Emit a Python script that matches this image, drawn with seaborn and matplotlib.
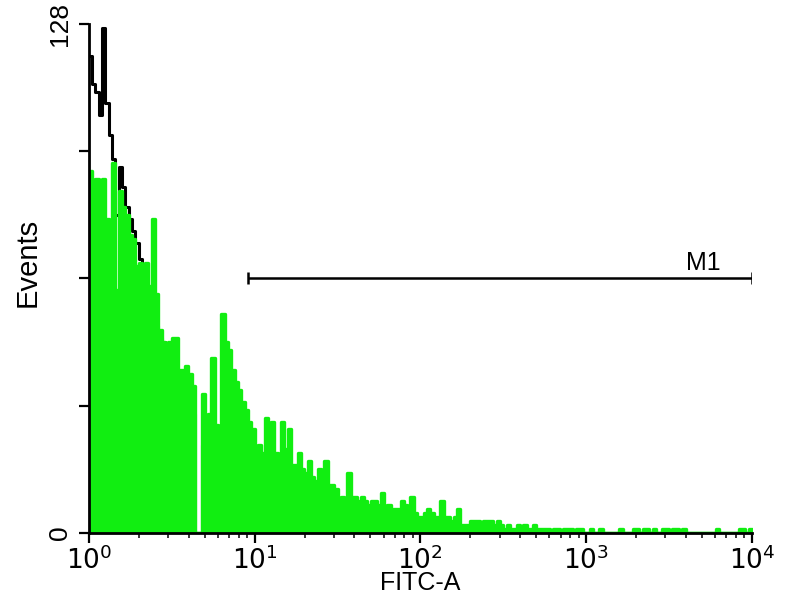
"""Flow cytometry overlay histogram: FITC-A, stained sample vs control"""
import numpy as np
import pandas as pd
import matplotlib
matplotlib.use("Agg")
import matplotlib.pyplot as plt
import seaborn as sns
from matplotlib.ticker import FixedLocator, LogLocator, NullFormatter

# 200 channels over 4 decades (50 per decade), counts
sample_counts = [
    91, 82, 89, 79, 89, 79, 78, 93, 61, 86,
    82, 80, 75, 74, 67, 68, 66, 68, 62, 79,
    60, 51, 48, 47, 48, 49, 49, 41, 41, 42,
    40, 37, 0, 0, 35, 23, 30, 44, 27, 20,
    55, 48, 46, 41, 38, 36, 33, 31, 28, 26,
    21, 22, 20, 29, 22, 28, 20, 19, 28, 21,
    26, 17, 17, 20, 16, 15, 18, 14, 13, 16,
    13, 18, 12, 12, 11, 8, 9, 8, 15, 9,
    9, 8, 9, 8, 7, 8, 8, 7, 10, 6,
    7, 6, 6, 6, 8, 7, 6, 9, 5, 4,
    4, 5, 6, 5, 4, 4, 8, 4, 4, 3,
    4, 6, 2, 2, 2, 3, 3, 3, 2, 3,
    3, 3, 2, 3, 2, 1, 2, 1, 1, 2,
    1, 2, 1, 1, 2, 1, 1, 1, 1, 0,
    1, 1, 0, 1, 1, 1, 0, 1, 1, 0,
    0, 1, 0, 0, 1, 0, 0, 0, 0, 0,
    1, 0, 0, 0, 1, 1, 0, 1, 1, 0,
    1, 0, 0, 1, 1, 0, 1, 1, 0, 1,
    0, 0, 0, 0, 0, 0, 0, 0, 0, 1,
    0, 0, 0, 0, 0, 0, 1, 1, 0, 1,
]

control_counts = [
    120, 113, 111, 105, 127, 108, 100, 94, 80, 92,
    87, 82, 79, 76, 73, 69, 67, 62, 55, 57,
    52, 49, 48, 45, 44, 42, 40, 38, 36, 34,
    32, 30, 0, 0, 22, 20, 19, 16, 15, 14,
    13, 13, 12, 13, 12, 10, 11, 10, 10, 11,
    9, 10, 9, 6, 9, 8, 8, 5, 4, 5,
    4, 5, 5, 6, 5, 4, 5, 4, 5, 4,
    4, 5, 5, 4, 5, 3, 3, 4, 4, 3,
    4, 4, 3, 2, 1, 2, 1, 1, 1, 2,
    1, 1, 1, 2, 1, 1, 1, 1, 1, 1,
    1, 1, 1,
] + [0] * 97

n_channels = len(sample_counts)
decades = (0, 4)
x_ticks = [1, 10, 100, 1000, 10000]
x_tick_labels = ["$10^{0}$", "$10^{1}$", "$10^{2}$", "$10^{3}$", "$10^{4}$"]
y_ticks = [0, 32, 64, 96, 128]
y_tick_labels = ["0", "", "", "", "128"]
marker_name = "M1"
marker_range = (9.1, 10000)
marker_level = 64

# channel centres in linear units
centres = 10 ** (decades[0] + (np.arange(n_channels) + 0.5) * (decades[1] - decades[0]) / n_channels)
df = pd.DataFrame({"FITC-A": centres, "sample": sample_counts, "control": control_counts})

sns.set_style("ticks")
plt.rcParams["font.family"] = ["Liberation Sans", "DejaVu Sans"]

fig = plt.figure(figsize=(8, 6), dpi=100)
ax = fig.add_axes([0.111, 0.112, 0.829, 0.848])

# control outline first, green sample fill on top of it
sns.histplot(data=df, x="FITC-A", weights="control", bins=n_channels, binrange=decades,
             log_scale=True, element="step", fill=False, color="black", linewidth=2.2,
             ax=ax, zorder=2)
sns.histplot(data=df, x="FITC-A", weights="sample", bins=n_channels, binrange=decades,
             log_scale=True, element="step", fill=True, color="#11ee11", alpha=1,
             edgecolor="#11ee11", linewidth=2.4, ax=ax, zorder=3)

# marker bar
ax.hlines(marker_level, *marker_range, color="black", linewidth=1.8, zorder=4)
ax.vlines(marker_range, marker_level - 1.5, marker_level + 1.5, color="black", linewidth=1.8, zorder=4)
ax.text(5060, marker_level + 0.8, marker_name, fontsize=18, color="black", ha="center", va="bottom")

ax.set_xlim(1, 10000)
ax.set_ylim(0, 128)
ax.xaxis.set_major_locator(FixedLocator(x_ticks))
ax.set_xticklabels(x_tick_labels)
ax.xaxis.set_minor_locator(LogLocator(base=10, subs=np.arange(2, 10)))
ax.xaxis.set_minor_formatter(NullFormatter())
ax.set_yticks(y_ticks)
ax.set_yticklabels(y_tick_labels, rotation=90, va="center")

ax.tick_params(axis="both", which="major", direction="out", length=7, width=1.6,
               labelsize=19, colors="black")
ax.tick_params(axis="x", which="minor", direction="out", length=3.5, width=1.3)
ax.tick_params(axis="y", pad=5)
ax.tick_params(axis="x", pad=2)

ax.set_xlabel("FITC-A", fontsize=18, color="black")
ax.set_ylabel("Events", fontsize=21, color="black")
ax.xaxis.set_label_coords(0.5, -0.076)
ax.yaxis.set_label_coords(-0.071, 0.532)

sns.despine(ax=ax)
for side in ["left", "bottom"]:
    ax.spines[side].set_linewidth(2)
    ax.spines[side].set_color("black")
    ax.spines[side].set_zorder(5)

fig.savefig("out.png", dpi=100)
